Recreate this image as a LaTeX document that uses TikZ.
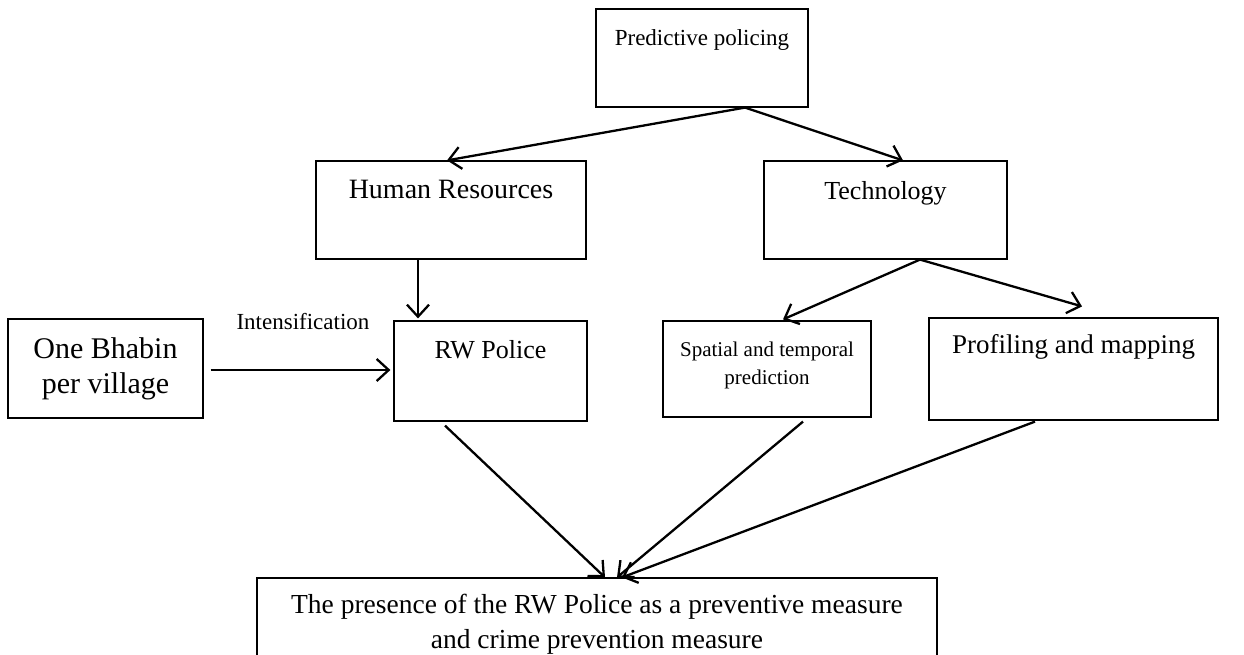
\documentclass[tikz,border=0pt]{standalone}
\usepackage{fontspec}
\setmainfont{Liberation Serif}
\usetikzlibrary{arrows.meta}
\begin{document}
\begin{tikzpicture}[x=1pt,y=-1pt,
  box/.style={draw, line width=1.2pt, inner sep=0pt},
  lab/.style={anchor=north, inner sep=0pt},
  arr/.style={line width=2.3pt, -{Straight Barb[length=12pt,width=22pt,line width=2.3pt]}}]
\useasboundingbox (0,0) rectangle (1244,655);
\clip (0,0) rectangle (1244,655);
\fill[white] (0,0) rectangle (1244,655);

\node[box, minimum width=212pt, minimum height=98pt,
  label={[lab, font=\fontsize{23}{28}\selectfont, yshift=-21pt]north:Predictive policing}] (pp) at (702,58) {};
\node[box, minimum width=270pt, minimum height=98pt,
  label={[lab, font=\fontsize{28}{34}\selectfont, yshift=-20pt]north:Human Resources}] (hr) at (451,210) {};
\node[box, minimum width=243pt, minimum height=98pt,
  label={[lab, font=\fontsize{26}{32}\selectfont, yshift=-21pt]north:Technology}] (tech) at (885.5,210) {};
\node[box, align=center, font=\fontsize{30}{35}\selectfont, minimum width=195pt, minimum height=99pt] (oneb) at (105.5,368.5) {One Bhabin\\per village};
\node[box, minimum width=193pt, minimum height=100pt,
  label={[lab, font=\fontsize{26}{32}\selectfont, yshift=-20pt]north:RW Police}] (rw) at (490.5,371) {};
\node[box, minimum width=208pt, minimum height=96pt,
  label={[lab, font=\fontsize{21}{28}\selectfont, align=center, yshift=-21pt]north:Spatial and temporal\\prediction}] (sp) at (767,369) {};
\node[box, minimum width=289pt, minimum height=102pt,
  label={[lab, font=\fontsize{27}{33}\selectfont, yshift=-17pt]north:Profiling and mapping}] (prof) at (1073.5,369) {};
\node[box, minimum width=680pt, minimum height=120pt,
  label={[lab, font=\fontsize{27.5}{35}\selectfont, align=center, yshift=-17pt]north:The presence of the RW Police as a preventive measure\\and crime prevention measure}] (res) at (597,638) {};
\node[inner sep=0pt, font=\fontsize{23}{28}\selectfont] (int) at (303,322) {Intensification};

\draw[arr] ([xshift=43pt]pp.south) -- ([xshift=-4pt]hr.north);
\draw[arr] ([xshift=43pt]pp.south) -- ([xshift=17.5pt]tech.north);
\draw[arr] ([xshift=-33pt]hr.south) -- ([xshift=-72.5pt,yshift=2pt]rw.north);
\draw[arr] ([xshift=7pt,yshift=-1.5pt]oneb.east) -- ([xshift=-3pt,yshift=1pt]rw.west);
\draw[arr] ([xshift=34.5pt]tech.south) -- ([xshift=16pt,yshift=1pt]sp.north);
\draw[arr] ([xshift=34.5pt]tech.south) -- ([xshift=8.5pt,yshift=11pt]prof.north);
\draw[arr] ([xshift=-45.5pt,yshift=-4pt]rw.south) -- ([xshift=8pt]res.north);
\draw[arr] ([xshift=36pt,yshift=-4pt]sp.south) -- ([xshift=20pt]res.north);
\draw[arr] ([xshift=-38.5pt,yshift=-1pt]prof.south) -- ([xshift=25pt]res.north);
\end{tikzpicture}
\end{document}
